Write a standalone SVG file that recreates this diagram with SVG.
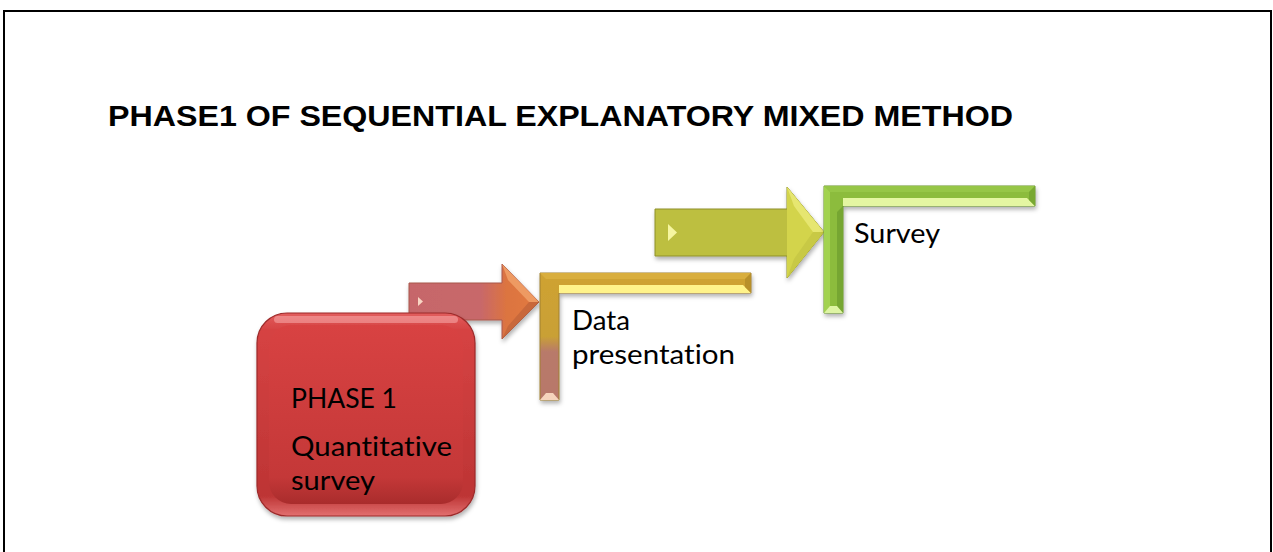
<svg xmlns="http://www.w3.org/2000/svg" width="1273" height="552" viewBox="0 0 1273 552">
<defs>
<style>
.lbl{font-family:Lato,"Open Sans","Liberation Sans",sans-serif;font-size:27px;fill:#000;font-variant-ligatures:none}
.title{font-family:"Liberation Sans",Arial,sans-serif;font-weight:bold;font-size:29px;fill:#000}
</style>
<filter id="sh" x="-10%" y="-10%" width="130%" height="140%">
<feDropShadow dx="1" dy="3" stdDeviation="2" flood-color="#000" flood-opacity="0.3"/>
</filter>
<linearGradient id="redOuter" x1="0" y1="0" x2="0" y2="1">
<stop offset="0" stop-color="#e25e5e"/>
<stop offset="0.08" stop-color="#d64343"/>
<stop offset="0.9" stop-color="#bd3434"/>
<stop offset="1" stop-color="#e27070"/>
</linearGradient>
<linearGradient id="redInner" x1="0" y1="0" x2="0" y2="1">
<stop offset="0" stop-color="#d84242"/>
<stop offset="0.85" stop-color="#c43838"/>
<stop offset="1" stop-color="#a92c2c"/>
</linearGradient>
<linearGradient id="orangeArrow" x1="409" y1="0" x2="539" y2="0" gradientUnits="userSpaceOnUse">
<stop offset="0" stop-color="#c6666a"/>
<stop offset="0.55" stop-color="#c8686a"/>
<stop offset="0.75" stop-color="#dc7440"/>
<stop offset="1" stop-color="#e27a40"/>
</linearGradient>
<linearGradient id="goldBar" x1="0" y1="273" x2="0" y2="400" gradientUnits="userSpaceOnUse">
<stop offset="0" stop-color="#cfa232"/>
<stop offset="0.5" stop-color="#c9a036"/>
<stop offset="0.62" stop-color="#b87a6a"/>
<stop offset="1" stop-color="#b8786a"/>
</linearGradient>
</defs>
<rect width="1273" height="552" fill="#fff"/>
<path d="M4,552 V11 H1271 V552" fill="none" stroke="#000" stroke-width="2"/>
<text class="title" x="108" y="126" textLength="905" lengthAdjust="spacingAndGlyphs">PHASE1 OF SEQUENTIAL EXPLANATORY MIXED METHOD</text>

<g id="connectors">
<g id="arrow-1" filter="url(#sh)">
<path d="M409,283 H502 V264 L539,302 L502,339 V320 H409 Z" fill="url(#orangeArrow)" stroke="#a8584a" stroke-width="1"/>
<path d="M502,264 L539,302 L529,302 L508,280 Z" fill="#ee9a62"/>
<path d="M539,302 L502,339 L508,326 L529,302 Z" fill="#c8683a"/>
<path d="M418,297 L423,301.5 L418,306 Z" fill="#f8d6c4"/>
</g>
<g id="arrow-2" filter="url(#sh)">
<path d="M655,209 H787 V187 L824,232 L787,278 V256 H655 Z" fill="#bdbf40" stroke="#8e9028" stroke-width="1"/>
<path d="M787,187 L824,232 L787,278 Z" fill="#d3d44c"/>
<path d="M787,187 L824,232 L813,232 L794,206 Z" fill="#e6e670"/>
<path d="M824,232 L787,278 L794,259 L813,232 Z" fill="#c8c944"/>
<path d="M668,224 L677,232.5 L668,241 Z" fill="#f6f6a0"/>
</g>
</g>

<g id="node-phase1">
<rect x="257" y="313" width="218" height="203" rx="30" fill="url(#redOuter)" stroke="#9c2a2a" stroke-width="1.2" filter="url(#sh)"/>
<rect x="269" y="325" width="194" height="179" rx="22" fill="url(#redInner)"/>
<rect x="274" y="316" width="184" height="7" rx="3.5" fill="#ffc0c0" opacity="0.45"/>
<text class="lbl" x="291" y="408" textLength="106" lengthAdjust="spacingAndGlyphs">PHASE 1</text>
<text class="lbl" x="291" y="456" textLength="161" lengthAdjust="spacingAndGlyphs">Quantitative</text>
<text class="lbl" x="291" y="490" textLength="84" lengthAdjust="spacingAndGlyphs">survey</text>
</g>

<g id="node-data">
<g filter="url(#sh)">
<path d="M540,273 H751 V293 H559 V400 H540 Z" fill="url(#goldBar)" stroke="#a08030" stroke-width="1"/>
<path d="M540,273 H751 L745,279 H546 Z" fill="#d9ae3c"/>
<path d="M559,285 H743 L751,293 H559 Z" fill="#fff38a"/>
<path d="M751,273 V293 L745,287 V279 Z" fill="#b8902a"/>
<path d="M540,400 H559 L553,393 H546 Z" fill="#f6d4bc"/>
</g>
<text class="lbl" x="572" y="330" textLength="58" lengthAdjust="spacingAndGlyphs">Data</text>
<text class="lbl" x="572" y="364" textLength="163" lengthAdjust="spacingAndGlyphs">presentation</text>
</g>

<g id="node-survey">
<g filter="url(#sh)">
<path d="M824,186 H1035 V206 H843 V313 H824 Z" fill="#8cbc3e" stroke="#6a9428" stroke-width="1"/>
<path d="M824,186 H1035 L1029,192 H830 Z" fill="#96c646"/>
<path d="M843,198 H1027 L1035,206 H843 Z" fill="#e4f6a2"/>
<path d="M824,186 L830,192 V307 L824,313 Z" fill="#a2d250"/>
<path d="M843,206 V313 L837,307 V212 Z" fill="#76a630"/>
<path d="M824,313 H843 L837,306 H830 Z" fill="#def4a4"/>
<path d="M1035,186 V206 L1029,200 V192 Z" fill="#78a832"/>
</g>
<text class="lbl" x="854" y="243" textLength="86" lengthAdjust="spacingAndGlyphs">Survey</text>
</g>
</svg>
